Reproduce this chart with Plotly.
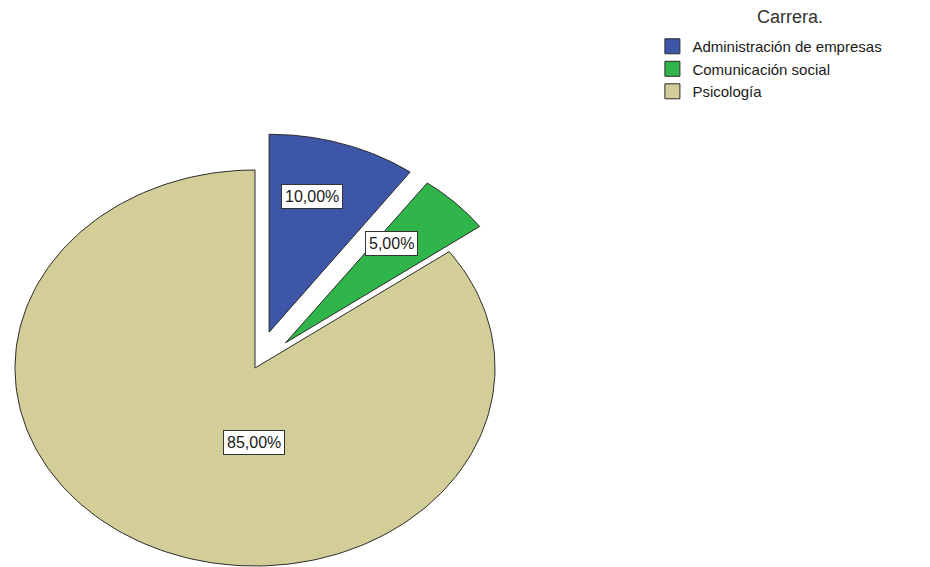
import numpy as np
import plotly.graph_objects as go

# Distribución de estudiantes por carrera
carreras = ["Administración de empresas", "Comunicación social", "Psicología"]
porcentajes = [10.0, 5.0, 85.0]
colores = ["#3D56A8", "#2FB54A", "#D3CD98"]
separacion = [0.19, 0.18, 0.0]   # desplazamiento radial de cada sector

# Geometría del gráfico (en píxeles del lienzo)
W, H = 930, 567
cx, cy = 255, 368
rx, ry = 240, 198

fig = go.Figure()

total = sum(porcentajes)
inicio = 0.0
centros = []
for nombre, valor, color, sep in zip(carreras, porcentajes, colores, separacion):
    a0 = inicio / total * 2 * np.pi
    a1 = (inicio + valor) / total * 2 * np.pi
    am = (a0 + a1) / 2
    ox = sep * rx * np.sin(am)
    oy = -sep * ry * np.cos(am)
    t = np.linspace(a0, a1, 200)
    xs = np.concatenate([[cx + ox], cx + ox + rx * np.sin(t), [cx + ox]])
    ys = np.concatenate([[cy + oy], cy + oy - ry * np.cos(t), [cy + oy]])
    fig.add_trace(go.Scatter(
        x=xs, y=ys, mode="lines", fill="toself", fillcolor=color,
        line=dict(color="#2b2b2b", width=1), name=nombre,
        legendgroup=nombre, hoverinfo="name", showlegend=False,
    ))
    # entrada de leyenda con muestra cuadrada
    fig.add_trace(go.Scatter(
        x=[None], y=[None], mode="markers", name=nombre, legendgroup=nombre,
        marker=dict(symbol="square", size=15, color=color,
                    line=dict(color="#2b2b2b", width=1)),
        showlegend=True,
    ))
    centros.append((cx + ox, cy + oy, am))
    inicio += valor

# Etiquetas de porcentaje con recuadro
radio_etiqueta = [0.72, 0.71, 0.42]
desfase_x = [-0.044, -0.06, 0.187]
for (px, py, am), valor, r, dx in zip(centros, porcentajes, radio_etiqueta, desfase_x):
    fig.add_annotation(
        x=px + (r * np.sin(am) + dx) * rx, y=py - r * ry * np.cos(am),
        text=f"{valor:.2f}%".replace(".", ","), showarrow=False,
        font=dict(family="Liberation Sans, Arial", size=16, color="#1a1a1a"),
        bgcolor="white", bordercolor="#333333", borderwidth=1, borderpad=3,
    )

# Título de la leyenda
fig.add_annotation(
    x=0.849, y=0.97, xref="paper", yref="paper", xanchor="center", yanchor="middle",
    text="Carrera.", showarrow=False,
    font=dict(family="Liberation Sans, Arial", size=18, color="#333333"),
)

fig.update_xaxes(range=[0, W], visible=False, fixedrange=True)
fig.update_yaxes(range=[H, 0], visible=False, fixedrange=True)
fig.update_layout(
    width=W, height=H,
    margin=dict(l=0, r=0, t=0, b=0),
    paper_bgcolor="white", plot_bgcolor="white",
    font=dict(family="Liberation Sans, Arial", color="#1a1a1a"),
    legend=dict(
        x=0.7015, y=0.947, xanchor="left", yanchor="top",
        font=dict(size=15, color="#1a1a1a"),
        bgcolor="rgba(0,0,0,0)", itemwidth=30, tracegroupgap=0,
    ),
)

fig.write_html("out.html")
